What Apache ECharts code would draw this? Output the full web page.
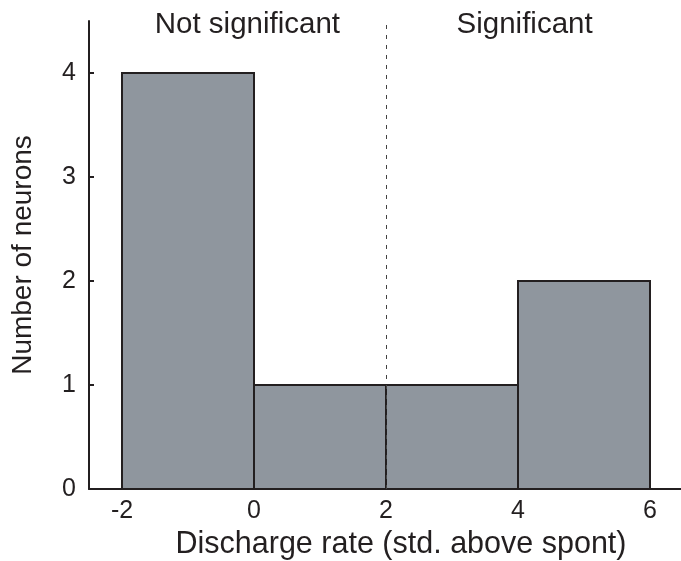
<!DOCTYPE html>
<html><head><meta charset="utf-8">
<script src="https://cdn.jsdelivr.net/npm/echarts@6/dist/echarts.min.js"></script>
<style>html,body{margin:0;padding:0;background:#fff}#c{width:681px;height:561px}</style>
</head><body><div id="c"></div>
<script>
var binStarts = [-2, 0, 2, 4];
var binEnds = [0, 2, 4, 6];
var counts = [4, 1, 1, 2];
var yTicks = [0, 1, 2, 3, 4];
var xTicks = [-2, 0, 2, 4, 6];
var regionLabels = ['Not significant', 'Significant'];
var regionCenters = [-0.1, 4.1];
var threshold = 2;

var data = binStarts.map(function(s, i){ return [s, binEnds[i], counts[i]]; });
var font = 'Liberation Sans, Arial, sans-serif';
var ink = '#231f20';
var chart = echarts.init(document.getElementById('c'));
chart.setOption({
  animation: false,
  grid: {left: 89, top: 21, width: 594, height: 468, containLabel: false, outerBoundsMode: 'none'},
  xAxis: {
    type: 'value', min: -2.5, max: 6.5, interval: 2,
    axisLine: {show: true, onZero: false, lineStyle: {color: ink, width: 2}},
    axisTick: {show: false}, splitLine: {show: false},
    axisLabel: {color: ink, fontSize: 25, fontFamily: font, margin: 10,
      customValues: xTicks, formatter: function(v){ return String(v); }},
    name: 'Discharge rate (std. above spont)', nameLocation: 'middle', nameGap: 27,
    nameTextStyle: {color: ink, fontSize: 30.5, fontFamily: font, padding: [0, 0, 0, 30]}
  },
  yAxis: {
    type: 'value', min: 0, max: 4.5,
    axisLine: {show: true, onZero: false, lineStyle: {color: ink, width: 2}},
    axisTick: {show: true, inside: true, length: 5, customValues: yTicks, lineStyle: {color: ink, width: 2}},
    splitLine: {show: false},
    axisLabel: {color: ink, fontSize: 25, fontFamily: font, margin: 13, customValues: yTicks},
    name: 'Number of neurons', nameLocation: 'middle', nameGap: 52,
    nameTextStyle: {color: ink, fontSize: 28, fontFamily: font}
  },
  series: [{
    type: 'custom',
    data: data,
    encode: {x: [0, 1], y: 2},
    renderItem: function(params, api){
      var p0 = api.coord([api.value(0), api.value(2)]);
      var p1 = api.coord([api.value(1), 0]);
      return {type: 'rect', shape: {x: p0[0], y: p0[1], width: p1[0]-p0[0], height: p1[1]-p0[1]},
        style: {fill: '#8f969e', stroke: ink, lineWidth: 2}};
    },
    markLine: {
      silent: true, symbol: 'none', label: {show: false},
      lineStyle: {type: [4, 6], color: '#444', width: 1},
      data: [[{coord: [threshold, 0]}, {coord: [threshold, 4.5]}]]
    }
  }, {
    type: 'custom',
    data: regionCenters.map(function(c, i){ return [c, 4.5, i]; }),
    encode: {x: 0, y: 1},
    renderItem: function(params, api){
      var p = api.coord([api.value(0), api.value(1)]);
      return {type: 'text', x: p[0], y: p[1] + 4,
        style: {text: regionLabels[api.value(2)], fill: ink, font: '29.5px ' + font, align: 'center', verticalAlign: 'middle'}};
    }
  }]
});
</script></body></html>
